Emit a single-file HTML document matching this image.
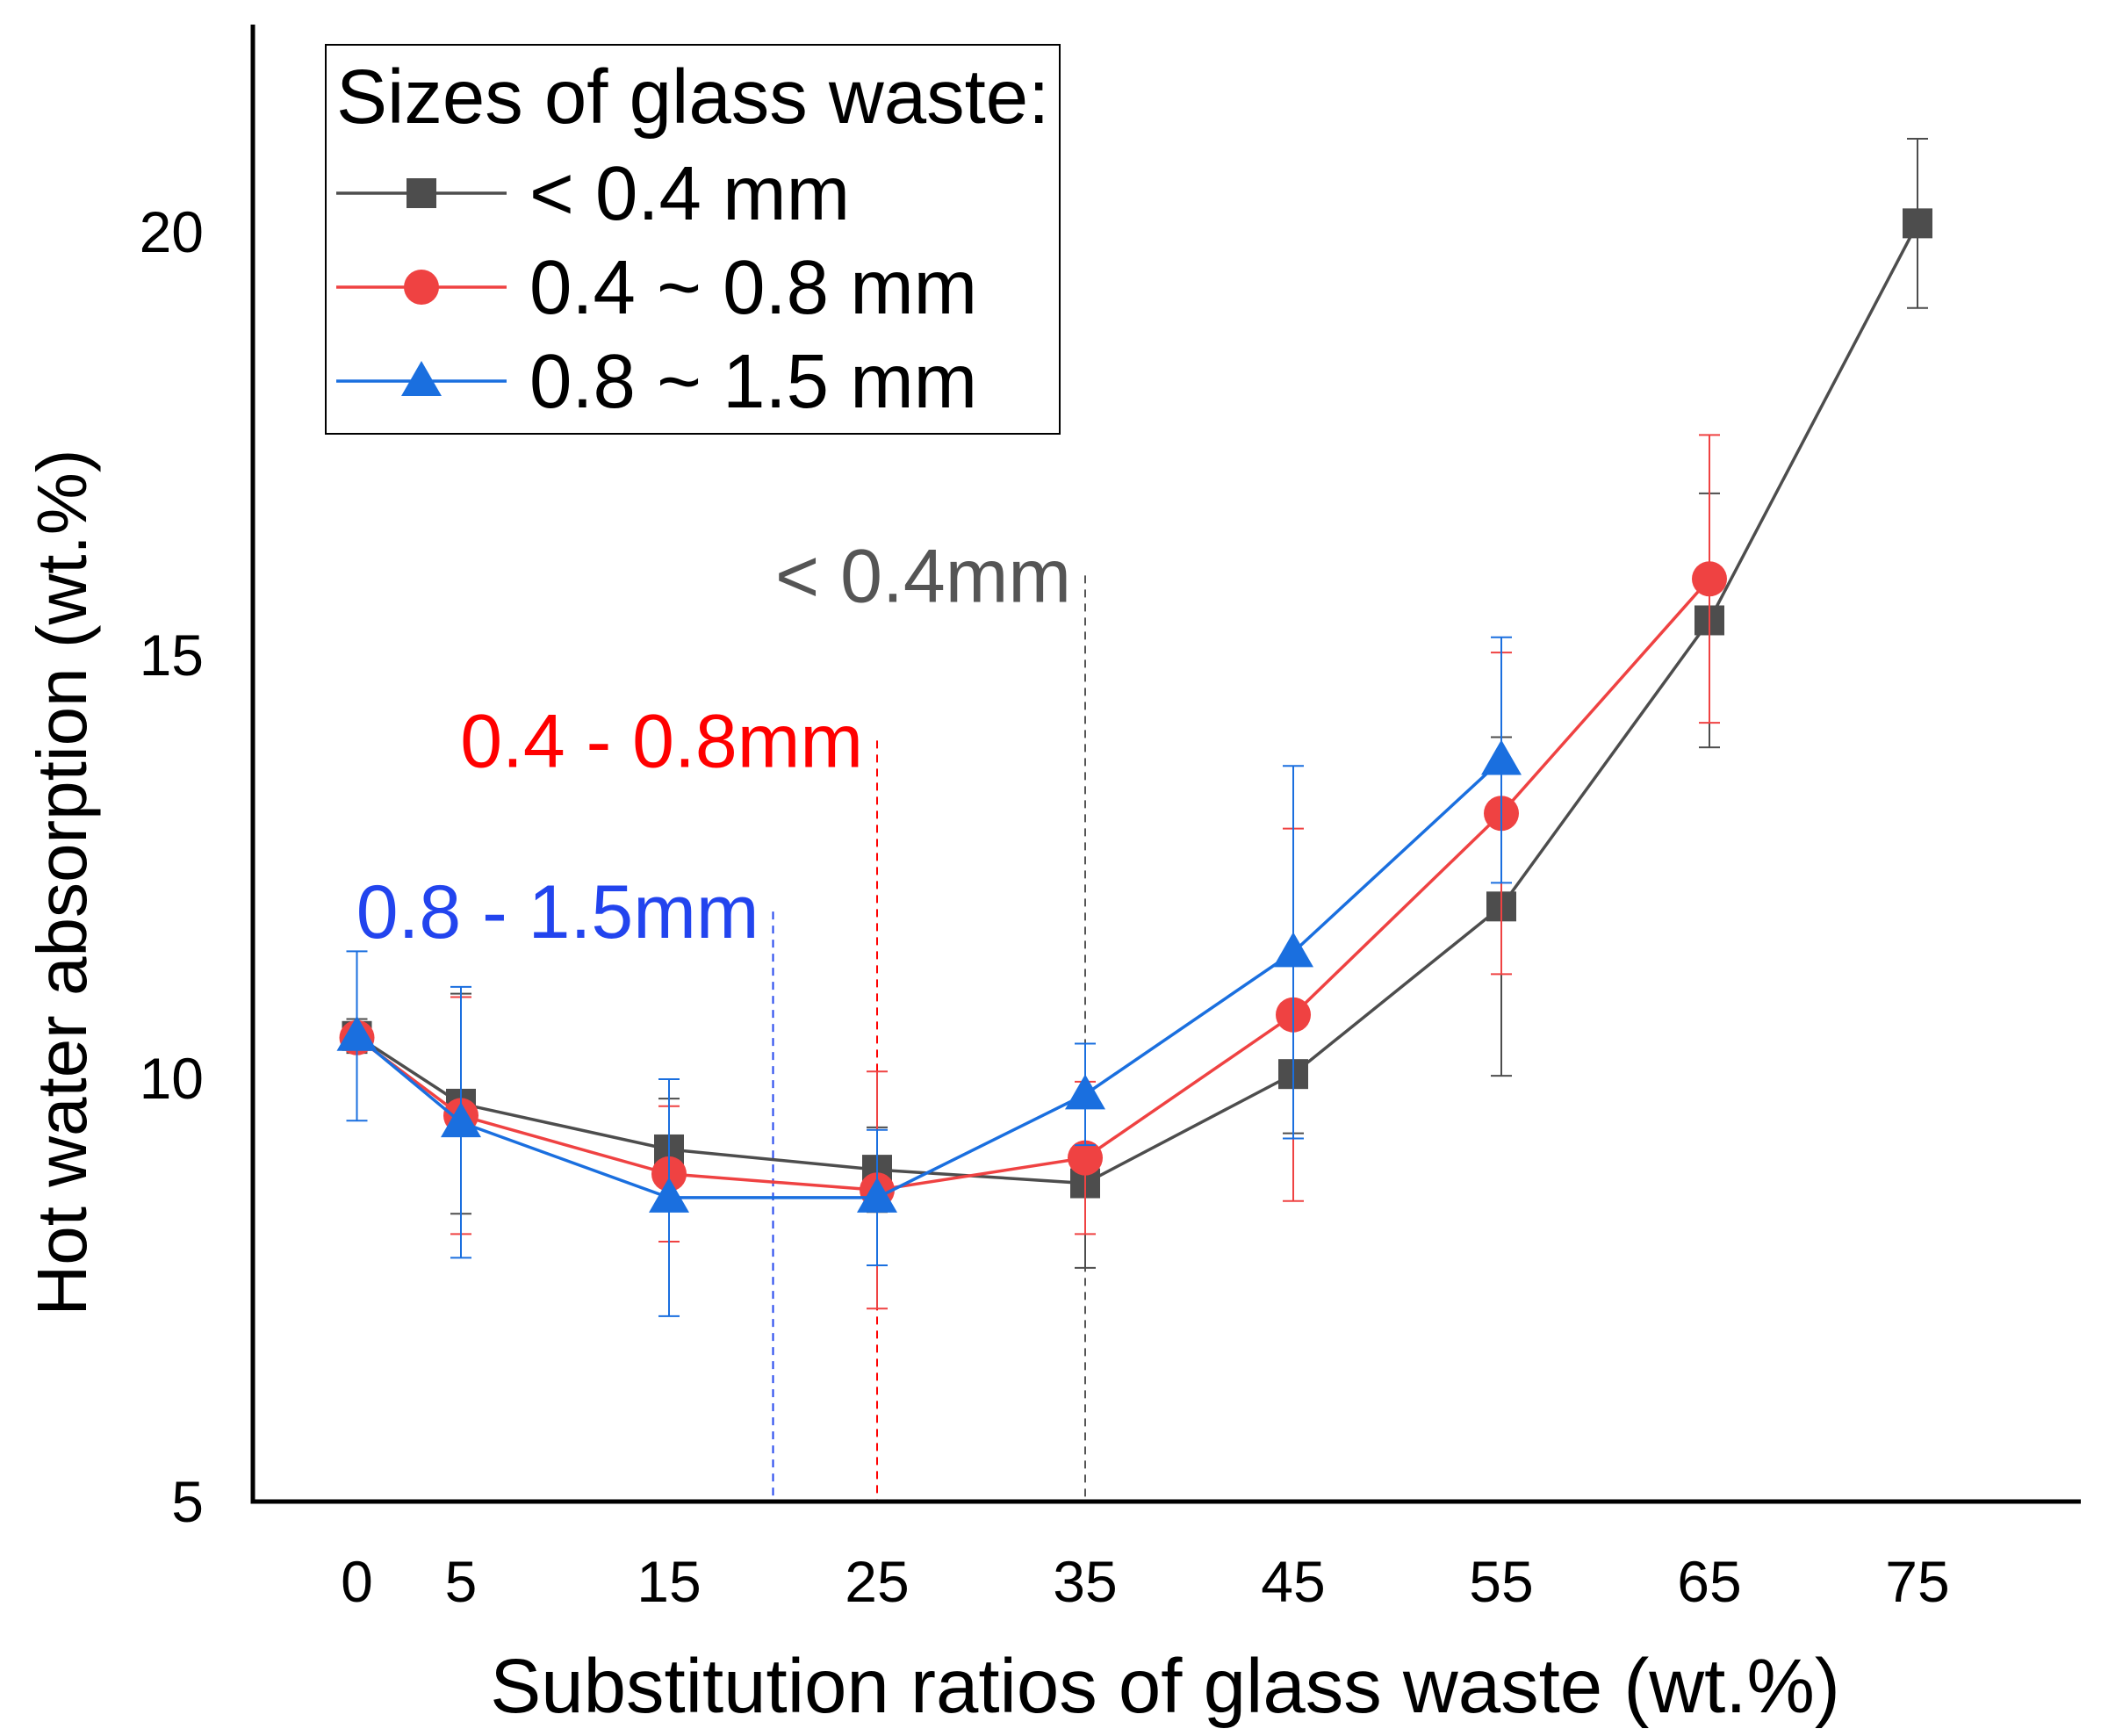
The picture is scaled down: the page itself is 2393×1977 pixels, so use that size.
<!DOCTYPE html>
<html><head><meta charset="utf-8"><style>
html,body{margin:0;padding:0;background:#fff}
svg{display:block}
text{font-family:"Liberation Sans",Arial,sans-serif}
</style></head><body>
<svg id="chart" width="2393" height="1977" viewBox="0 0 2393 1977" xmlns="http://www.w3.org/2000/svg">
<g id="plot"></g>
</svg>
<script>
const xCats = [0,5,15,25,35,45,55,65,75];
const yTicks = [5,10,15,20];
const seriesNames = ["< 0.4 mm","0.4 ~ 0.8 mm","0.8 ~ 1.5 mm"];
const blackX = [0,5,15,25,35,45,55,65,75];
const blackY = [10.5,9.7,9.16,8.92,8.76,10.05,12.03,15.41,20.1];
const blackErr = [0.2,1.3,0.6,0.5,1.0,0.7,2.0,1.5,1.0];
const redX = [0,5,15,25,35,45,55,65];
const redY = [10.48,9.56,8.87,8.68,9.06,10.75,13.13,15.9];
const redErr = [0.1,1.4,0.8,1.4,0.9,2.2,1.9,1.7];
const blueX = [0,5,15,25,35,45,55];
const blueY = [10.5,9.48,8.59,8.59,9.81,11.49,13.76];
const blueErr = [1.0,1.6,1.4,0.8,0.6,2.2,1.45];
const thresholdX = [20,25,35];
const thresholdTop = [11.97,13.99,15.94];
const thresholdLabels = ["0.8 - 1.5mm","0.4 - 0.8mm","< 0.4mm"];

const NS="http://www.w3.org/2000/svg";
const g=document.getElementById('plot');
const X0=288, Y0=1710;
function xs(v){return 406.5+23.7*v;}
function ys(v){return 1710-(v-5)*96.4;}
function mk(tag,attrs,parent){const e=document.createElementNS(NS,tag);for(const k in attrs)e.setAttribute(k,attrs[k]);(parent||g).appendChild(e);return e;}

const thColors=["#2244ee","#ff0000","#555555"];
thresholdX.forEach((v,i)=>{
  const l=mk('line',{x1:xs(v),x2:xs(v),y1:ys(thresholdTop[i]),y2:Y0,stroke:thColors[i],'stroke-width':2,'stroke-dasharray':'9,7'});
  
  
  const t=mk('text',{x:xs(v)-16,y:ys(thresholdTop[i])+30,'font-size':86,fill:thColors[i],'text-anchor':'end'});
  t.textContent=thresholdLabels[i];
  
  
});

const ax=mk('path',{d:`M${X0} 28 L${X0} ${Y0} L2370 ${Y0}`,fill:'none',stroke:'#000','stroke-width':5});



yTicks.forEach(v=>{
  const t=mk('text',{x:232,y:ys(v)+23,'font-size':66,'text-anchor':'end',fill:'#000'});
  t.textContent=v;
  
  
});
xCats.forEach(v=>{
  const t=mk('text',{x:xs(v),y:1824,'font-size':66,'text-anchor':'middle',fill:'#000'});
  t.textContent=v;
  
  
});
const xt=mk('text',{x:1327,y:1950,'font-size':87,'text-anchor':'middle',fill:'#000'});
xt.textContent="Substitution ratios of glass waste (wt.%)";


const yt=mk('text',{x:0,y:0,'font-size':80,'text-anchor':'middle',fill:'#000',transform:'translate(98,1005) rotate(-90)'});
yt.textContent="Hot water absorption (wt.%)";



function marker(shape,cx,cy,color,parent){
  let e;
  if(shape==='sq') e=mk('rect',{x:cx-17,y:cy-17,width:34,height:34,fill:color},parent);
  else if(shape==='ci') e=mk('circle',{cx:cx,cy:cy,r:20,fill:color},parent);
  else e=mk('polygon',{points:`${cx},${cy-23} ${cx-23},${cy+17} ${cx+23},${cy+17}`,fill:color},parent);
  return e;
}
function drawSeries(name,xsArr,ysArr,errs,color,shape){
  const sg=mk('g',{});
  
  
  xsArr.forEach((v,i)=>{
    const x=xs(v),y1=ys(ysArr[i]+errs[i]),y2=ys(ysArr[i]-errs[i]);
    const eb=mk('path',{d:`M${x} ${y1}L${x} ${y2}M${x-12} ${y1}L${x+12} ${y1}M${x-12} ${y2}L${x+12} ${y2}`,stroke:color,'stroke-width':2,fill:'none'},sg);
    
    
  });
  const pl=mk('polyline',{points:xsArr.map((v,i)=>xs(v)+','+ys(ysArr[i])).join(' '),fill:'none',stroke:color,'stroke-width':3.5},sg);
  
  
  xsArr.forEach((v,i)=>{
    const m=marker(shape,xs(v),ys(ysArr[i]),color,sg);
    
    
  });
}
drawSeries('lt-0-4',blackX,blackY,blackErr,'#4d4d4d','sq');
drawSeries('0-4-0-8',redX,redY,redErr,'#ef4242','ci');
drawSeries('0-8-1-5',blueX,blueY,blueErr,'#1a6fdf','tr');

const lg=mk('g',{});


const lb=mk('rect',{x:371,y:51,width:836,height:443,fill:'#fff',stroke:'#000','stroke-width':2},lg);


const ltt=mk('text',{x:383,y:140,'font-size':87,fill:'#000'},lg);
ltt.textContent="Sizes of glass waste:";


const lcolors=['#4d4d4d','#ef4242','#1a6fdf'], lshapes=['sq','ci','tr'];
seriesNames.forEach((n,i)=>{
  const cy=220+i*107;
  const le=mk('g',{},lg);
  
  
  mk('line',{x1:383,x2:577,y1:cy,y2:cy,stroke:lcolors[i],'stroke-width':3.5},le);
  marker(lshapes[i],480,cy,lcolors[i],le);
  const t=mk('text',{x:603,y:cy+30,'font-size':87,fill:'#000'},le);
  t.textContent=n;
});
</script>
</body></html>
